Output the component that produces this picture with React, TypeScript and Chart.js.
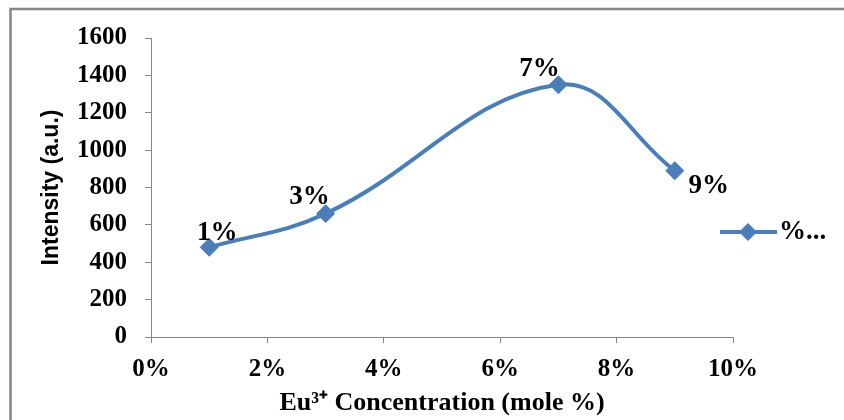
import React, { useEffect, useRef } from "react";
import { Chart, registerables } from "chart.js";

Chart.register(...registerables);

// ---- data ----
const concentrations = [1, 3, 7, 9]; // Eu3+ mole %
const intensities = [480, 660, 1350, 890]; // a.u.
const xTickValues = [0, 2, 4, 6, 8, 10];
const yTickValues = [0, 200, 400, 600, 800, 1000, 1200, 1400, 1600];
const seriesName = "%...";
const xTitle = "Eu³⁺ Concentration (mole %)";
const yTitle = "Intensity (a.u.)";

// ---- style ----
const BLUE = "#4a7ebb";
const AXIS_GRAY = "#868686";
const SERIF = "'Liberation Serif', 'Times New Roman', serif";
const SANS = "'Liberation Sans', Arial, sans-serif";
// label offsets (dx, dy) in pixels relative to each point
const LABEL_OFFSETS: [number, number][] = [
  [8, -14],
  [-16, -17],
  [-19, -16],
  [34, 15],
];

const decorPlugin = {
  id: "decor",
  beforeDraw(chart: any) {
    const ctx = chart.ctx;
    ctx.save();
    ctx.strokeStyle = "#858585";
    ctx.lineWidth = 2.5;
    ctx.strokeRect(10.5, 9, 1000, 1000);
    ctx.restore();
  },
  afterDatasetsDraw(chart: any) {
    const ctx = chart.ctx;
    const meta = chart.getDatasetMeta(0);
    ctx.save();
    ctx.font = `bold 27px ${SERIF}`;
    ctx.fillStyle = "#000";
    ctx.textAlign = "center";
    ctx.textBaseline = "middle";
    meta.data.forEach((pt: any, i: number) => {
      const [dx, dy] = LABEL_OFFSETS[i] || [0, -16];
      ctx.fillText(`${concentrations[i]}%`, pt.x + dx, pt.y + dy);
    });
    // legend
    const ly = 232;
    ctx.strokeStyle = BLUE;
    ctx.lineWidth = 4;
    ctx.beginPath();
    ctx.moveTo(720, ly);
    ctx.lineTo(777, ly);
    ctx.stroke();
    ctx.fillStyle = BLUE;
    ctx.beginPath();
    const cx = 748, r = 9;
    ctx.moveTo(cx - r, ly);
    ctx.lineTo(cx, ly - r);
    ctx.lineTo(cx + r, ly);
    ctx.lineTo(cx, ly + r);
    ctx.closePath();
    ctx.fill();
    ctx.fillStyle = "#000";
    ctx.textAlign = "left";
    ctx.font = `bold 27px ${SERIF}`;
    ctx.fillText(seriesName, 779, ly);
    ctx.restore();
  },
};

export default function App() {
  const ref = useRef<HTMLCanvasElement | null>(null);
  useEffect(() => {
    if (!ref.current) return;
    const chart = new Chart(ref.current, {
      type: "line",
      data: {
        datasets: [
          {
            label: seriesName,
            data: concentrations.map((c, i) => ({ x: c, y: intensities[i] })),
            borderColor: BLUE,
            backgroundColor: BLUE,
            borderWidth: 4,
            tension: 0.4,
            pointStyle: "rectRot",
            pointRadius: 9,
            pointBorderWidth: 1,
            pointBackgroundColor: BLUE,
            pointBorderColor: BLUE,
            fill: false,
          },
        ],
      },
      options: {
        responsive: false,
        animation: false,
        layout: { padding: { left: 0, top: 38, right: 111, bottom: 0 } },
        plugins: {
          legend: { display: false },
          tooltip: { enabled: false },
        },
        scales: {
          x: {
            type: "linear",
            min: 0,
            max: 10,
            afterBuildTicks: (axis: any) => {
              axis.ticks = xTickValues.map((v) => ({ value: v }));
            },
            afterFit: (axis: any) => {
              axis.height = 83;
            },
            ticks: {
              color: "#000",
              font: { family: SERIF, size: 25, weight: "bold" },
              padding: 12,
              maxRotation: 0,
              callback: (v: any) => `${v}%`,
            },
            grid: {
              drawOnChartArea: false,
              drawTicks: true,
              tickLength: 6,
              color: AXIS_GRAY,
            },
            border: { color: AXIS_GRAY, width: 1 },
            title: {
              display: true,
              text: xTitle,
              color: "#000",
              font: { family: SERIF, size: 26, weight: "bold" },
              padding: { top: 0, bottom: 1 },
            },
          },
          y: {
            type: "linear",
            min: 0,
            max: 1600,
            afterBuildTicks: (axis: any) => {
              axis.ticks = yTickValues.map((v) => ({ value: v }));
            },
            afterFit: (axis: any) => {
              axis.width = 151;
            },
            ticks: {
              color: "#000",
              font: { family: SERIF, size: 25, weight: "bold" },
              padding: 18,
              callback: (v: any) => String(v),
            },
            grid: {
              drawOnChartArea: false,
              drawTicks: true,
              tickLength: 6,
              color: AXIS_GRAY,
            },
            border: { color: AXIS_GRAY, width: 1 },
            title: {
              display: true,
              text: yTitle,
              color: "#000",
              font: { family: SANS, size: 23, weight: "bold" },
              padding: { top: 38, bottom: 0 },
            },
          },
        },
      },
      plugins: [decorPlugin],
    } as any);
    return () => chart.destroy();
  }, []);
  return (
    <div style={{ position: "absolute", left: 0, top: 0, width: 844, height: 420, background: "#fff" }}>
      <canvas ref={ref} width={844} height={420} />
    </div>
  );
}
